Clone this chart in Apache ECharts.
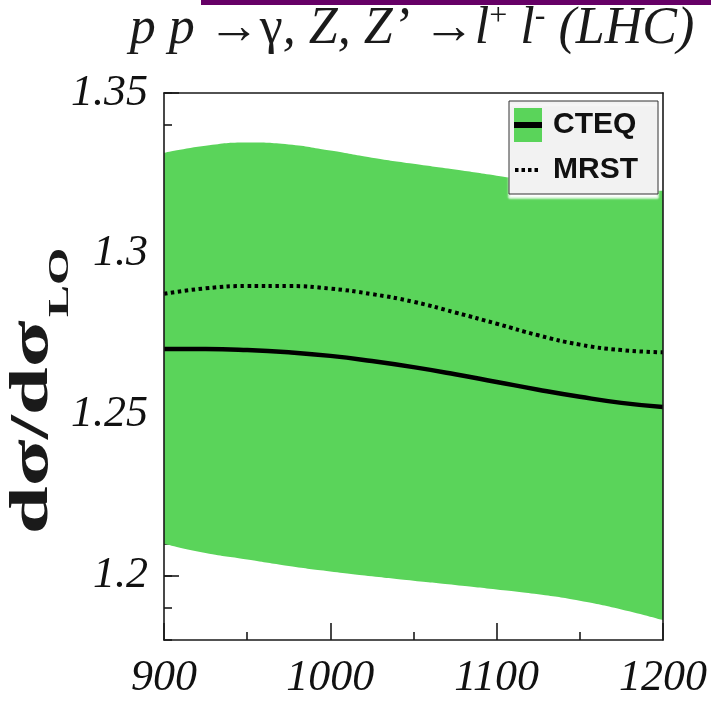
<!DOCTYPE html>
<html>
<head>
<meta charset="utf-8">
<script src="https://cdn.jsdelivr.net/npm/echarts@6/dist/echarts.min.js"></script>
<style>
    html, body { margin: 0; padding: 0; background: #fff; }
    #chart { width: 711px; height: 702px; }
</style>
</head>
<body>
<div id="chart"></div>
<script>
    // data
    const xValues = [900, 925, 950, 975, 1000, 1025, 1050, 1075, 1100, 1125, 1150, 1175, 1200];
    const bandUpper = [1.3314, 1.3336, 1.3346, 1.3340, 1.3321, 1.3299, 1.3280, 1.3262, 1.3243, 1.3224, 1.3209, 1.3200, 1.3196];
    const bandLower = [1.2099, 1.2070, 1.2050, 1.2030, 1.2013, 1.1998, 1.1984, 1.1971, 1.1957, 1.1942, 1.1922, 1.1895, 1.1862];
    const cteq = [1.2704, 1.2704, 1.2701, 1.2694, 1.2683, 1.2667, 1.2648, 1.2626, 1.2602, 1.2578, 1.2556, 1.2537, 1.2524];
    const mrst = [1.2876, 1.2893, 1.2900, 1.2900, 1.2892, 1.2875, 1.2851, 1.2818, 1.2783, 1.2747, 1.2718, 1.2701, 1.2694];
    const yMajorTicks = [1.2, 1.25, 1.3, 1.35];

    const green = '#5ad45a';
    const ink = '#1a1a1a';
    const serif = 'Liberation Serif';

    // legend icons
    const cteqIcon = 'image://data:image/svg+xml;charset=utf-8,' + encodeURIComponent(
        '<svg xmlns="http://www.w3.org/2000/svg" width="28" height="34">' +
        '<rect x="0" y="0" width="28" height="34" fill="' + green + '"/>' +
        '<rect x="0" y="14" width="28" height="6" fill="#000"/></svg>');
    const mrstIcon = 'image://data:image/svg+xml;charset=utf-8,' + encodeURIComponent(
        '<svg xmlns="http://www.w3.org/2000/svg" width="28" height="34">' +
        '<line x1="1" y1="17" x2="24" y2="17" stroke="#000" stroke-width="4" stroke-dasharray="3.5,3"/></svg>');

    const bandWidth = bandUpper.map((v, i) => v - bandLower[i]);

    const lineOnly = (pos, extra) => Object.assign({
        position: pos,
        z: 10,
        axisLine: { show: true, onZero: false, lineStyle: { color: ink, width: 1.6 } },
        axisTick: { show: false },
        axisLabel: { show: false },
        splitLine: { show: false }
    }, extra);

    const chart = echarts.init(document.getElementById('chart'));
    chart.setOption({
        animation: false,
        backgroundColor: '#fff',
        grid: { left: 164, right: 48, top: 93, bottom: 62, outerBoundsMode: 'none' },
        graphic: [
            {
                type: 'rect',
                shape: { x: 201, y: 0, width: 510, height: 5 },
                style: { fill: '#660066' }
            },
            {
                type: 'text',
                x: 412,
                y: 29,
                style: {
                    text: '{i|p p }{r|→γ}{i|, Z, Z’ }{r|→}{i|l}{sup|+}{i| l}{sup|-}{i| (LHC)}',
                    align: 'center',
                    verticalAlign: 'middle',
                    fill: ink,
                    rich: {
                        i: { fontFamily: serif, fontStyle: 'italic', fontSize: 52, lineHeight: 56, fill: ink },
                        r: { fontFamily: serif, fontSize: 52, lineHeight: 56, fill: ink },
                        sup: { fontFamily: serif, fontSize: 32, lineHeight: 34, verticalAlign: 'top', fill: ink }
                    }
                }
            },
            {
                type: 'text',
                x: 36,
                y: 391,
                rotation: Math.PI / 2,
                scaleX: 1.6,
                style: {
                    text: '{m|dσ/dσ}{s|LO}',
                    align: 'center',
                    verticalAlign: 'middle',
                    fill: ink,
                    rich: {
                        m: { fontFamily: serif, fontWeight: 'bold', fontSize: 54, lineHeight: 60, verticalAlign: 'top', fill: ink },
                        s: { fontFamily: serif, fontWeight: 'bold', fontSize: 30, lineHeight: 30, verticalAlign: 'top', padding: [39, 0, 0, 2], fill: ink }
                    }
                }
            }
        ],
        legend: {
            orient: 'vertical',
            right: 53,
            top: 101,
            selectedMode: false,
            data: [{ name: 'CTEQ', icon: cteqIcon }, { name: 'MRST', icon: mrstIcon }],
            itemWidth: 28,
            itemHeight: 34,
            itemGap: 11,
            padding: [7, 20, 7, 5],
            backgroundColor: '#f2f2f2',
            borderColor: '#333',
            borderWidth: 1,
            shadowColor: '#ffffff',
            shadowBlur: 2,
            shadowOffsetY: 4,
            textStyle: { fontFamily: 'Liberation Sans', fontWeight: 'bold', fontSize: 30, color: '#111', padding: [0, 0, 0, 6] }
        },
        xAxis: [
            {
                type: 'value',
                position: 'bottom',
                min: 900,
                max: 1200,
                interval: 100,
                axisLine: { show: false },
                axisTick: { show: true, inside: true, length: 17, lineStyle: { color: ink, width: 1.6 } },
                minorTick: { show: true, splitNumber: 2, length: 8, lineStyle: { color: ink, width: 1.6 } },
                axisLabel: {
                    margin: 16,
                    fontFamily: serif,
                    fontStyle: 'italic',
                    fontSize: 44,
                    color: '#111',
                    formatter: (v) => String(v)
                },
                splitLine: { show: false }
            },
            lineOnly('bottom', { type: 'value', min: 900, max: 1200 }),
            lineOnly('top', { type: 'value', min: 900, max: 1200 }),
            {
                // hidden category axis carrying the series, so the band can stack
                type: 'category',
                data: xValues,
                boundaryGap: false,
                show: false
            }
        ],
        yAxis: [
            {
                type: 'value',
                position: 'left',
                min: 1.18,
                max: 1.35,
                interval: 0.01,
                axisLine: { show: false },
                axisTick: { show: true, inside: true, length: 8, lineStyle: { color: ink, width: 1.6 } },
                axisLabel: {
                    margin: 16,
                    padding: [9, 0, 0, 0],
                    fontFamily: serif,
                    fontStyle: 'italic',
                    fontSize: 44,
                    color: '#111',
                    showMinLabel: true,
                    showMaxLabel: true,
                    formatter: function (v) {
                        const c = Math.round(v * 100);
                        return c % 5 === 0 ? String(c / 100) : '';
                    }
                },
                splitLine: { show: false }
            },
            {
                type: 'value',
                position: 'left',
                min: 1.18,
                max: 1.35,
                axisLine: { show: false },
                axisTick: { show: true, inside: true, length: 15, customValues: yMajorTicks, lineStyle: { color: ink, width: 1.6 } },
                axisLabel: { show: false },
                splitLine: { show: false }
            },
            lineOnly('left', { type: 'value', min: 1.18, max: 1.35 }),
            lineOnly('right', { type: 'value', min: 1.18, max: 1.35 })
        ],
        series: [
            {
                name: 'lower',
                type: 'line',
                xAxisIndex: 3,
                stack: 'band',
                smooth: true,
                symbol: 'none',
                lineStyle: { opacity: 0 },
                data: bandLower
            },
            {
                name: 'band',
                type: 'line',
                xAxisIndex: 3,
                stack: 'band',
                smooth: true,
                symbol: 'none',
                lineStyle: { opacity: 0 },
                areaStyle: { color: green, opacity: 1 },
                data: bandWidth
            },
            {
                name: 'CTEQ',
                type: 'line',
                xAxisIndex: 3,
                smooth: true,
                symbol: 'none',
                color: '#000',
                lineStyle: { color: '#000', width: 4.5 },
                data: cteq
            },
            {
                name: 'MRST',
                type: 'line',
                xAxisIndex: 3,
                smooth: true,
                symbol: 'none',
                color: '#000',
                lineStyle: { color: '#000', width: 4, type: [3.5, 3.5] },
                data: mrst
            }
        ]
    });
</script>
</body>
</html>
